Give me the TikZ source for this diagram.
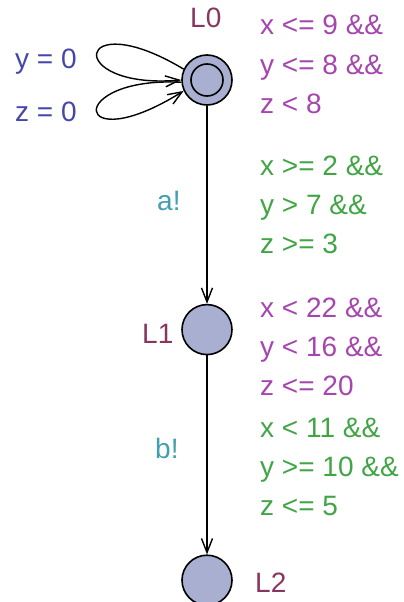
\documentclass[tikz,border=0pt]{standalone}
\usepackage{fontspec}
\setmainfont{Liberation Sans}
\usepackage{xcolor}
\usetikzlibrary{arrows.meta, positioning}

\definecolor{locname}{RGB}{135,55,95}
\definecolor{invcol}{RGB}{165,70,175}
\definecolor{guardcol}{RGB}{65,165,70}
\definecolor{synccol}{RGB}{65,160,175}
\definecolor{assigncol}{RGB}{70,70,170}
\definecolor{locfill}{RGB}{168,175,208}

\begin{document}
\begin{tikzpicture}[
    x=1pt, y=1pt,
    loc/.style={circle, draw, line width=1.6pt, fill=locfill,
                minimum size=50pt, inner sep=0pt},
    trans/.style={-{Straight Barb[length=14pt, width=11pt]}, line width=1.4pt},
    lbl/.style={anchor=base west, inner sep=0pt,
                font=\fontsize{28}{39}\selectfont, align=left},
]
    \useasboundingbox (0,0) rectangle (404,-602);

    % Locations
    \node[loc] (L0) at (207,-80) {};
    \node[circle, draw, line width=1.6pt, minimum size=32pt, inner sep=0pt] (L0in) at (L0) {};
    \node[loc, below=198pt of L0] (L1) {};
    \node[loc, below=199pt of L1] (L2) {};

    % Names
    \node[lbl, text=locname] (nL0) at (190,-28) {L0};
    \node[lbl, text=locname] (nL1) at (142,-343) {L1};
    \node[lbl, text=locname] (nL2) at (255,-592) {L2};

    % Invariants (base = last line)
    \node[lbl, text=invcol] (inv0) at (260,-113) {x <= 9 \&\&\\y <= 8 \&\&\\z < 8};
    \node[lbl, text=invcol] (inv1) at (260,-395) {x < 22 \&\&\\y < 16 \&\&\\z <= 20};

    % Guards
    \node[lbl, text=guardcol] (g0) at (260,-253) {x >= 2 \&\&\\y > 7 \&\&\\z >= 3};
    \node[lbl, text=guardcol] (g1) at (260,-515) {x < 11 \&\&\\y >= 10 \&\&\\z <= 5};

    % Syncs
    \node[lbl, text=synccol] (s0) at (157,-210) {a!};
    \node[lbl, text=synccol] (s1) at (155,-458) {b!};

    % Resets
    \node[lbl, text=assigncol] (r0) at (15,-69) {y = 0};
    \node[lbl, text=assigncol] (r1) at (15,-121) {z = 0};

    % Edges
    \draw[trans] (L0.155) .. controls +(-110,66) and +(-118,-10) .. (L0.180);
    \draw[trans] (L0.185) .. controls +(-117,6) and +(-112,-70) .. (L0.205);
    \draw[trans] (L0) -- (L1);
    \draw[trans] (L1) -- (L2);
\end{tikzpicture}
\end{document}
